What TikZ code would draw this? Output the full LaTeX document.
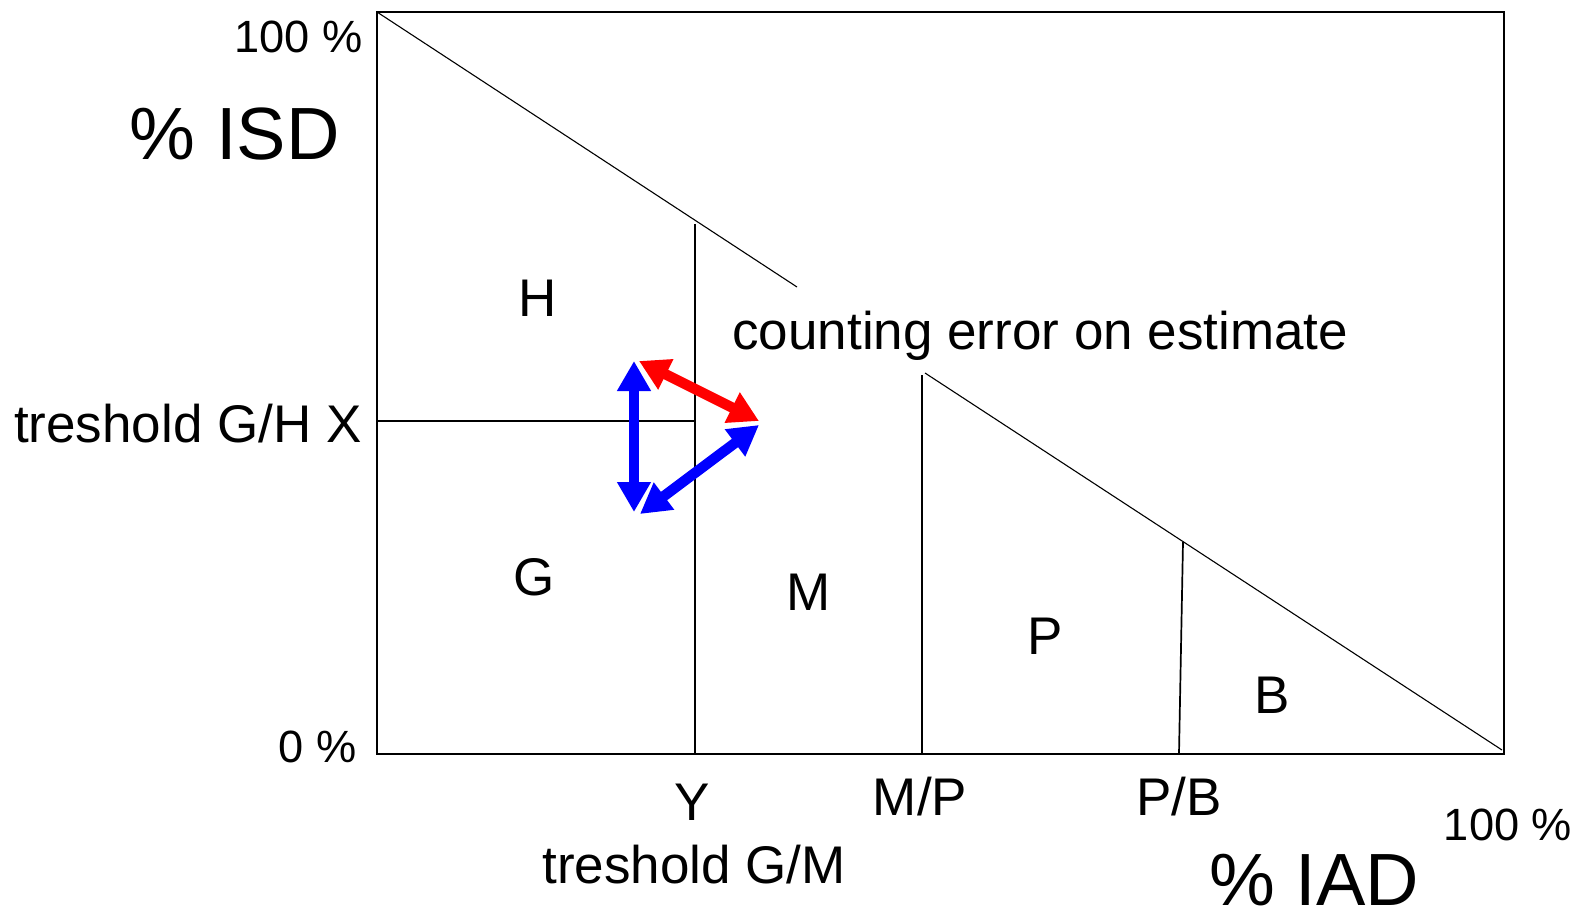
\documentclass[tikz,border=0pt]{standalone}
\usepackage{fontspec}
\setmainfont{Liberation Sans}
\usepackage{xcolor}
\definecolor{errred}{RGB}{255,0,0}
\definecolor{errblue}{RGB}{0,0,255}
\usepackage{tikz}
\usetikzlibrary{arrows.meta}
\tikzset{
  lbl/.style={inner sep=0pt, font=\fontsize{26.5}{30}\selectfont},
  small/.style={inner sep=0pt, font=\fontsize{22.6}{26}\selectfont},
  big/.style={inner sep=0pt, font=\fontsize{37}{42}\selectfont},
  frame/.style={draw=black, line width=0.8pt},
  split/.style={black, line width=0.85pt},
  limit/.style={black, line width=0.55pt},
  err/.style={line width=5.2pt, {Triangle[length=15pt,width=16pt]}-{Triangle[length=15pt,width=16pt]}},
}

\begin{document}
\begin{tikzpicture}[x=0.5pt, y=-0.5pt]
  \useasboundingbox (0,0) rectangle (1581,910);
  % corners of the diagram
  \coordinate (o) at (377,754);
  \coordinate (top) at (377,12);
  \coordinate (tr) at (1504,12);
  \coordinate (br) at (1504,754);
  \draw[frame] (o) rectangle (tr);
  % limit line, broken by the label
  \coordinate (d1a) at (377,12);
  \coordinate (d1b) at (797,287);
  \coordinate (d2a) at (925,373);
  \coordinate (d2b) at (1502,750);
  \draw[limit] (d1a) -- (d1b);
  \draw[limit] (d2a) -- (d2b);
  % thresholds
  \coordinate (ytop) at (695,224);
  \coordinate (ybot) at (695,754);
  \coordinate (mptop) at (922,375);
  \coordinate (mpbot) at (922,754);
  \coordinate (pbtop) at (1183,542);
  \coordinate (pbbot) at (1179,754);
  \coordinate (xl) at (377,421);
  \coordinate (xr) at (695,421);
  \draw[split] (ytop) -- (ybot);
  \draw[split] (mptop) -- (mpbot);
  \draw[split] (pbtop) -- (pbbot);
  \draw[split] (xl) -- (xr);
  % counting error
  \coordinate (eu) at (634,361);
  \coordinate (ed) at (634,512);
  \coordinate (ru) at (639,361);
  \coordinate (rr) at (759,421);
  \coordinate (br1) at (759,425);
  \coordinate (bd) at (640,514);
  \draw[err, errblue] (eu) -- (ed);
  \draw[err, errred] (ru) -- (rr);
  \draw[err, errblue] (br1) -- (bd);
  % axis labels
  \node[small, anchor=base east] (isdmax) at (363,52) {100 \%};
  \node[big, anchor=base east] (isd) at (340,159) {\% ISD};
  \node[lbl, anchor=base east] (thx) at (362,442) {treshold G/H X};
  \node[small, anchor=base east] (isdmin) at (357,762) {0 \%};
  \node[lbl, anchor=base] (ylbl) at (692,820) {Y};
  \node[lbl, anchor=base] (thy) at (694,883) {treshold G/M};
  \node[lbl, anchor=base] (mp) at (920,815) {M/P};
  \node[lbl, anchor=base] (pb) at (1179,815) {P/B};
  \node[small, anchor=base] (iadmax) at (1508,840) {100 \%};
  \node[big, anchor=base] (iad) at (1314,905) {\% IAD};
  % classes
  \node[lbl, anchor=base] (h) at (538,316) {H};
  \node[lbl, anchor=base] (g) at (534,595) {G};
  \node[lbl, anchor=base] (m) at (809,610) {M};
  \node[lbl, anchor=base] (p) at (1045,654) {P};
  \node[lbl, anchor=base] (b) at (1272,713) {B};
  \node[lbl, anchor=base west] (cnt) at (732,349) {counting error on estimate};
\end{tikzpicture}
\end{document}
